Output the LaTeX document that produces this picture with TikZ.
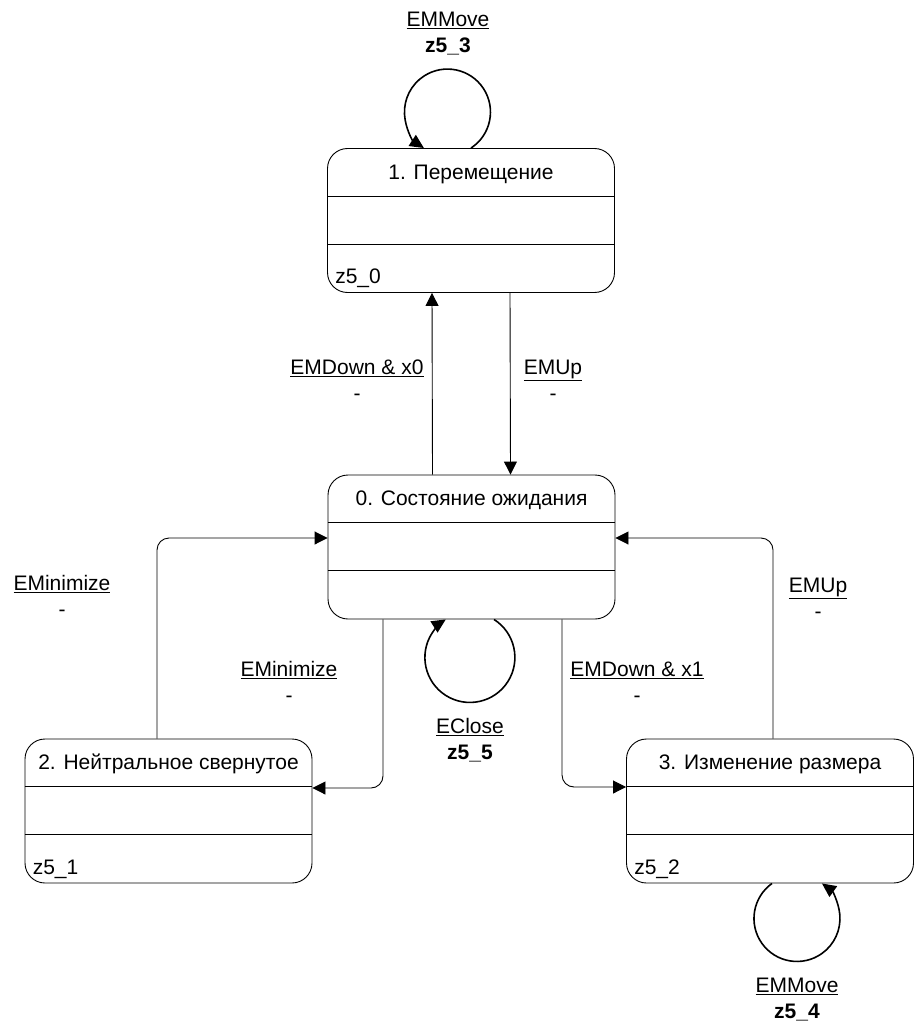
\documentclass[tikz,border=0pt]{standalone}
\usepackage{fontspec}
\setmainfont{Liberation Sans}
\usetikzlibrary{arrows.meta,calc}

\begin{document}
\begin{tikzpicture}[x=1pt,y=1pt,
  font=\fontsize{21}{26}\selectfont,
  statebox/.style={draw, line width=0.9pt, rounded corners=20pt,
    minimum width=287pt, minimum height=144pt, inner sep=0pt},
  divider/.style={line width=0.9pt},
  title/.style={anchor=base, inner sep=0pt},
  action/.style={anchor=base west, inner sep=0pt},
  trans/.style={draw, line width=0.9pt, rounded corners=12pt,
    -{Triangle[length=13pt,width=13pt]}},
  loopline/.style={draw, line width=1.6pt,
    -{Triangle[length=14pt,width=13pt]}},
  lbl/.style={align=center, inner sep=0pt}]

\path[use as bounding box] (0,0) rectangle (913,-1024);

% states
\node[statebox] (b1) at (471,-220.5) {};
\node[statebox] (b0) at (471.5,-547) {};
\node[statebox] (b2) at (168.5,-811) {};
\node[statebox] (b3) at (770,-811) {};

% compartments
\foreach \b in {b0,b1,b2,b3} {
  \draw[divider] ([yshift=-48pt]\b.north west) -- ([yshift=-48pt]\b.north east);
  \draw[divider] ([yshift=-96pt]\b.north west) -- ([yshift=-96pt]\b.north east);
}

% state names
\node[title] (t1) at ([yshift=-31pt]b1.north) {1. Перемещение};
\node[title] (t0) at ([yshift=-31pt]b0.north) {0. Состояние ожидания};
\node[title] (t2) at ([yshift=-31pt]b2.north) {2. Нейтральное свернутое};
\node[title] (t3) at ([yshift=-31pt]b3.north) {3. Изменение размера};

% actions
\node[action] (a1) at ([xshift=8pt,yshift=9pt]b1.south west) {z5\_0};
\node[action] (a2) at ([xshift=8pt,yshift=9pt]b2.south west) {z5\_1};
\node[action] (a3) at ([xshift=8pt,yshift=9pt]b3.south west) {z5\_2};

% transitions between states
\draw[trans] ([xshift=-39pt]b0.north) -- ([xshift=-39pt]b1.south);
\draw[trans] ([xshift=39pt]b1.south) -- ([xshift=39pt]b0.north);
\draw[trans] ([xshift=-88.5pt]b0.south) |- ([yshift=23pt]b2.east);
\draw[trans] ([xshift=-11.5pt]b2.north) |- ([yshift=9pt]b0.west);
\draw[trans] ([xshift=90.5pt]b0.south) |- ([yshift=24pt]b3.west);
\draw[trans] ([xshift=3pt]b3.north) |- ([yshift=9pt]b0.east);

% self loops
\draw[loopline] (b1.north) arc[start angle=-56.8, end angle=236.8, radius=43pt];
\draw[loopline] ([xshift=22.5pt]b0.south) arc[start angle=57.6, end angle=-237.6, radius=45pt];
\draw[loopline] ([xshift=2pt]b3.south) arc[start angle=125.5, end angle=414.5, radius=43pt];

% transition labels
\node[lbl] (l11) at (448,-33.5) {\underline{EMMove}\\\textbf{z5\_3}};
\node[lbl] (l01) at (357,-380) {\underline{EMDown \& x0}\\-};
\node[lbl] (l10) at (553,-380) {\underline{EMUp}\\-};
\node[lbl] (l20) at (62,-596) {\underline{EMinimize}\\-};
\node[lbl] (l02) at (289,-682) {\underline{EMinimize}\\-};
\node[lbl] (l00) at (470,-740) {\underline{EClose}\\\textbf{z5\_5}};
\node[lbl] (l03) at (637,-682) {\underline{EMDown \& x1}\\-};
\node[lbl] (l30) at (818,-598) {\underline{EMUp}\\-};
\node[lbl] (l33) at (797,-1000) {\underline{EMMove}\\\textbf{z5\_4}};

\end{tikzpicture}
\end{document}
